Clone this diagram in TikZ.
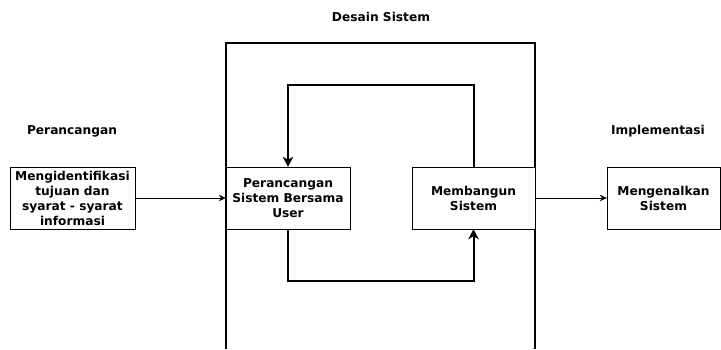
\documentclass[tikz,border=0pt]{standalone}
\usepackage{fontspec}
\setmainfont{DejaVu Sans}
\usetikzlibrary{arrows.meta}

\tikzset{
	box/.style={rectangle, draw=black, fill=white, align=center, inner sep=1pt, minimum height=62pt, font=\bfseries\fontsize{12.2}{15}\selectfont},
	lbl/.style={align=center, font=\bfseries\fontsize{12.2}{15}\selectfont},
	flow/.style={-{Stealth[length=7pt, width=6.5pt]}, line width=0.8pt},
	loop/.style={-{Stealth[length=10pt, width=10.5pt, inset=3pt]}, line width=2pt},
	frame/.style={line width=2pt}
}

\begin{document}
\begin{tikzpicture}[x=1pt, y=-1pt]
			\useasboundingbox (0,0) rectangle (721,349);
			\draw[frame] (226,349) -- (226,43) -- (535,43) -- (535,349);%desain sistem
			\node[lbl] (desain) at (381,17){Desain Sistem};
			\node[lbl] (perancangan) at (72,131){Perancangan};
			\node[lbl] (implementasi) at (658,131){Implementasi};
			\node[box, minimum width=125pt] (identifikasi) at (72.5,198){Mengidentifikasi\\tujuan dan\\syarat - syarat\\informasi};
			\node[box, minimum width=124pt] (bersama) at (288,198){Perancangan\\Sistem Bersama\\User};
			\node[box, minimum width=123pt] (membangun) at (473.5,198){Membangun\\Sistem};
			\node[box, minimum width=113pt] (mengenalkan) at (663.5,198){Mengenalkan\\Sistem};
			\draw[flow] (identifikasi) -- (bersama);
			\draw[flow] (membangun) -- (mengenalkan);
			\draw[loop] (membangun.north) -- ++(0,-82) -| (bersama.north);
			\draw[loop] (bersama.south) -- ++(0,52) -| (membangun.south);
		\end{tikzpicture}
\end{document}
